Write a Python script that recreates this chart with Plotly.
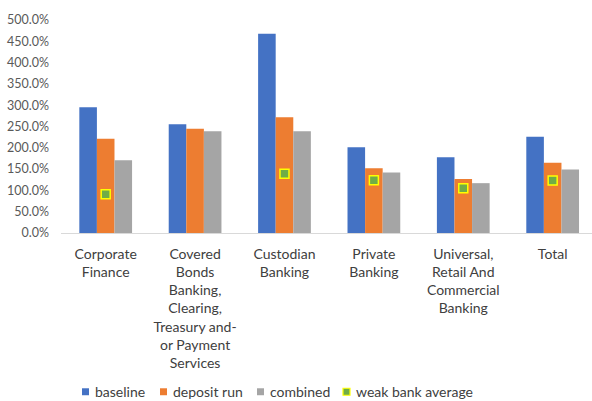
import plotly.graph_objects as go

categories = [
    "Corporate<br>Finance",
    "Covered<br>Bonds<br>Banking,<br>Clearing,<br>Treasury and-<br>or Payment<br>Services",
    "Custodian<br>Banking",
    "Private<br>Banking",
    "Universal,<br>Retail And<br>Commercial<br>Banking",
    "Total",
]
baseline = [295, 255, 468, 201, 178, 226]
deposit_run = [221, 245, 272, 152, 127, 165]
combined = [171, 239, 239, 142, 117, 149]
weak_bank_average = [91, None, 139, 124, 105, 123]

FONT = "Lato"
BLUE, ORANGE, GRAY = "#4472C4", "#ED7D31", "#A5A5A5"
GREEN, YELLOW = "#70AD47", "#FFFF00"

W, H = 592, 401
ML, MR, MT, MB = 61, 0, 19.5, 167.5
PW, PH = W - ML - MR, H - MT - MB

fig = go.Figure()
fig.add_trace(go.Bar(name="baseline", x=categories, y=baseline,
                     marker=dict(color=BLUE, line=dict(width=0))))
fig.add_trace(go.Bar(name="deposit run", x=categories, y=deposit_run,
                     marker=dict(color=ORANGE, line=dict(width=0))))
fig.add_trace(go.Bar(name="combined", x=categories, y=combined,
                     marker=dict(color=GRAY, line=dict(width=0))))
fig.add_trace(go.Scatter(name="weak bank average", x=categories, y=weak_bank_average,
                         mode="markers",
                         marker=dict(symbol="square", size=9, color=GREEN,
                                     line=dict(color=YELLOW, width=1.5))))


def px_x(px):
    return (px - ML) / PW


def px_y(py):
    return (H - MB - py) / PH


# legend row drawn below the category labels
legend_items = [
    ("baseline", BLUE, None, 82),
    ("deposit run", ORANGE, None, 160),
    ("combined", GRAY, None, 257),
    ("weak bank average", GREEN, YELLOW, 343),
]
shapes, annotations = [], []
ly = 393
for label, fill, edge, sx in legend_items:
    shapes.append(dict(
        type="rect", xref="paper", yref="paper",
        x0=px_x(sx), x1=px_x(sx + 7), y0=px_y(ly + 3.5), y1=px_y(ly - 3.5),
        fillcolor=fill,
        line=dict(color=edge if edge else fill, width=1.2 if edge else 0),
    ))
    annotations.append(dict(
        text=label, xref="paper", yref="paper",
        x=px_x(sx + 11), y=px_y(ly), xanchor="left", yanchor="middle",
        showarrow=False, font=dict(size=14, color="#404040", family=FONT),
    ))

fig.update_layout(
    width=W, height=H,
    margin=dict(l=ML, r=MR, t=MT, b=MB, autoexpand=False),
    paper_bgcolor="white", plot_bgcolor="white",
    barmode="group", bargap=0.41, bargroupgap=0,
    font=dict(family=FONT, color="#595959"),
    showlegend=False,
    shapes=shapes, annotations=annotations,
)
fig.update_xaxes(
    range=[-0.5, 5.44],
    showline=True, linecolor="#D9D9D9", linewidth=1,
    showgrid=False, ticks="", automargin=False,
    tickfont=dict(size=14, color="#404040", family=FONT),
    tickangle=0, ticklabelstandoff=8,
)
fig.update_yaxes(
    range=[0, 500], dtick=50,
    tickformat=".1f", ticksuffix="%",
    showgrid=False, zeroline=False, showline=False, ticks="",
    automargin=False, ticklabelstandoff=11,
    tickfont=dict(size=12.5, color="#595959", family=FONT),
)

fig.write_html("out.html")
